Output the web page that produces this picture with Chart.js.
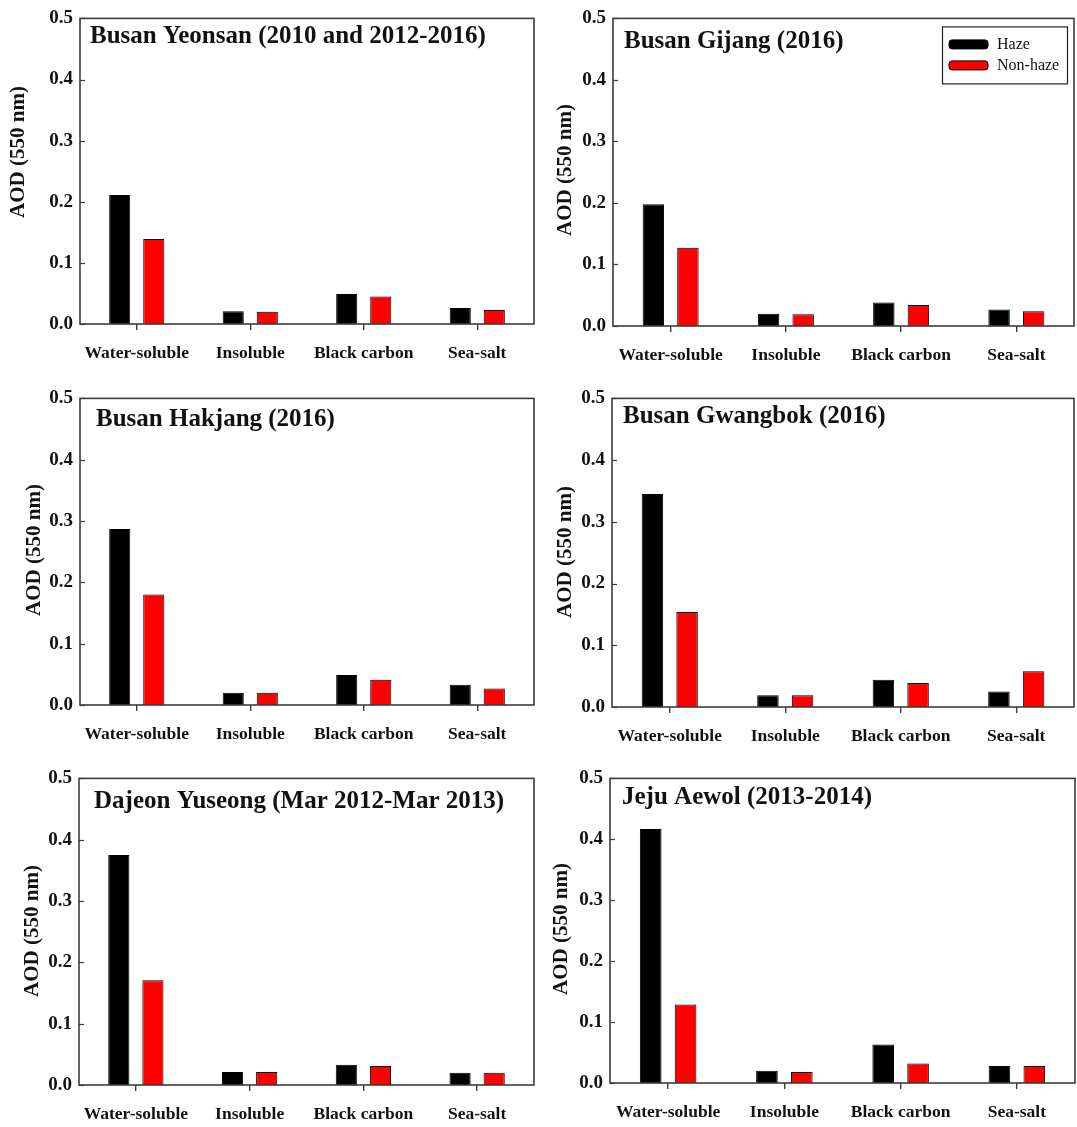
<!DOCTYPE html>
<html>
<head>
<meta charset="utf-8">
<script src="https://cdn.jsdelivr.net/npm/chart.js@4.4.1/dist/chart.umd.min.js"></script>
<style>
  html, body { margin: 0; padding: 0; background: #ffffff; }
  #wrap { position: relative; width: 1077px; height: 1127px; overflow: hidden; }
  #wrap canvas { position: absolute; }
</style>
</head>
<body>
<div id="wrap"></div>
<script>
// Aerosol components shown on the x axis of every panel
const categories = ['Water-soluble', 'Insoluble', 'Black carbon', 'Sea-salt'];
const seriesNames = ['Haze', 'Non-haze'];
const yTickValues = [0.0, 0.1, 0.2, 0.3, 0.4, 0.5];
const yAxisTitle = 'AOD (550 nm)';

const siteTitles = [
  'Busan Yeonsan (2010 and 2012-2016)',
  'Busan Gijang (2016)',
  'Busan Hakjang (2016)',
  'Busan Gwangbok (2016)',
  'Dajeon Yuseong (Mar 2012-Mar 2013)',
  'Jeju Aewol (2013-2014)'
];

// AOD at 550 nm per component, haze vs non-haze days
const yeonsanHaze     = [0.211, 0.021, 0.049, 0.026];
const yeonsanNonHaze  = [0.139, 0.020, 0.045, 0.023];
const gijangHaze      = [0.198, 0.020, 0.038, 0.027];
const gijangNonHaze   = [0.127, 0.019, 0.034, 0.024];
const hakjangHaze     = [0.287, 0.020, 0.049, 0.033];
const hakjangNonHaze  = [0.180, 0.020, 0.041, 0.027];
const gwangbokHaze    = [0.345, 0.019, 0.044, 0.025];
const gwangbokNonHaze = [0.154, 0.019, 0.039, 0.058];
const yuseongHaze     = [0.375, 0.021, 0.033, 0.020];
const yuseongNonHaze  = [0.171, 0.021, 0.031, 0.020];
const aewolHaze       = [0.417, 0.020, 0.063, 0.028];
const aewolNonHaze    = [0.129, 0.018, 0.032, 0.028];

const SERIF = '"Liberation Serif", "Times New Roman", serif';
const FRAME = '#3c3c3c';
const HAZE_COLOR = '#000000';
const NONHAZE_COLOR = '#ff0000';

// Page layout: canvas box [x, y, w, h], plot area [left, top, right, bottom] (page px),
// panel title anchor and rotated y-title centre (page px).
const panels = [
  { title: siteTitles[0], haze: yeonsanHaze,  nonHaze: yeonsanNonHaze,
    box: [0, 0, 540, 380],     area: [80, 14, 534, 324],   titleAt: [90, 37],   yTitleAt: [19, 152],  legend: false },
  { title: siteTitles[1], haze: gijangHaze,   nonHaze: gijangNonHaze,
    box: [540, 0, 537, 380],   area: [613, 13, 1074, 326], titleAt: [624, 42],  yTitleAt: [566, 170], legend: true },
  { title: siteTitles[2], haze: hakjangHaze,  nonHaze: hakjangNonHaze,
    box: [0, 380, 540, 380],   area: [80, 394, 534, 705],  titleAt: [96, 420],  yTitleAt: [35, 550],  legend: false },
  { title: siteTitles[3], haze: gwangbokHaze, nonHaze: gwangbokNonHaze,
    box: [540, 380, 537, 380], area: [612, 395, 1074, 707], titleAt: [623, 417], yTitleAt: [566, 552], legend: false },
  { title: siteTitles[4], haze: yuseongHaze,  nonHaze: yuseongNonHaze,
    box: [0, 760, 540, 367],   area: [79, 775, 534, 1085], titleAt: [94, 802],  yTitleAt: [33, 931],  legend: false },
  { title: siteTitles[5], haze: aewolHaze,    nonHaze: aewolNonHaze,
    box: [540, 760, 537, 367], area: [610, 773, 1075, 1083], titleAt: [622, 798], yTitleAt: [562, 929], legend: false }
];

// Frame, inward y ticks, panel title, y-axis title and legend
const panelDecor = {
  id: 'panelDecor',
  afterDraw(chart, args, opts) {
    const ctx = chart.ctx;
    const a = chart.chartArea;
    const y = chart.scales.y;
    ctx.save();

    // inward ticks on the y axis
    ctx.strokeStyle = FRAME;
    ctx.lineWidth = 1.2;
    y.ticks.forEach(t => {
      const py = Math.round(y.getPixelForValue(t.value)) + 0.5;
      ctx.beginPath();
      ctx.moveTo(a.left, py);
      ctx.lineTo(a.left + 5, py);
      ctx.stroke();
    });

    // closed frame around the plot
    ctx.lineWidth = 1.6;
    ctx.strokeStyle = FRAME;
    ctx.strokeRect(a.left, a.top, a.right - a.left, a.bottom - a.top);

    // site title inside the plot
    ctx.fillStyle = '#111';
    ctx.font = 'bold 25px ' + SERIF;
    ctx.textAlign = 'left';
    ctx.textBaseline = 'middle';
    ctx.fillText(opts.title, opts.titleX, opts.titleY);

    // rotated y-axis title
    ctx.save();
    ctx.translate(opts.yTitleX, opts.yTitleY);
    ctx.rotate(-Math.PI / 2);
    ctx.font = 'bold 21px ' + SERIF;
    ctx.textAlign = 'center';
    ctx.textBaseline = 'middle';
    ctx.fillText(yAxisTitle, 0, 0);
    ctx.restore();

    // legend box
    if (opts.legend) {
      const lx = a.right - 132, ly = a.top + 8, lw = 125, lh = 57;
      ctx.lineWidth = 1.2;
      ctx.strokeStyle = '#222';
      ctx.strokeRect(lx + 0.5, ly + 0.5, lw, lh);
      ctx.font = '16px ' + SERIF;
      ctx.textAlign = 'left';
      ctx.textBaseline = 'middle';
      chart.data.datasets.forEach((ds, i) => {
        const cy = ly + 18 + i * 21;
        ctx.beginPath();
        ctx.roundRect(lx + 7, cy - 4.5, 39, 9, 3);
        ctx.fillStyle = ds.backgroundColor;
        ctx.fill();
        ctx.lineWidth = 1;
        ctx.strokeStyle = '#000';
        ctx.stroke();
        ctx.fillStyle = '#111';
        ctx.fillText(ds.label, lx + 55, cy + 0.5);
      });
    }
    ctx.restore();
  }
};

const wrap = document.getElementById('wrap');

panels.forEach(p => {
  const [bx, by, bw, bh] = p.box;
  const [L, T, R, B] = p.area;
  const cv = document.createElement('canvas');
  cv.width = bw; cv.height = bh;
  cv.style.left = bx + 'px'; cv.style.top = by + 'px';
  cv.style.width = bw + 'px'; cv.style.height = bh + 'px';
  wrap.appendChild(cv);

  new Chart(cv, {
    type: 'bar',
    data: {
      labels: categories,
      datasets: [
        { label: seriesNames[0], data: p.haze, backgroundColor: HAZE_COLOR,
          borderColor: '#000', borderWidth: 1 },
        { label: seriesNames[1], data: p.nonHaze, backgroundColor: NONHAZE_COLOR,
          borderColor: '#000', borderWidth: 1 }
      ]
    },
    options: {
      responsive: false,
      animation: false,
      devicePixelRatio: 1,
      layout: { padding: { left: 0, top: T - by, right: (bx + bw) - R, bottom: 0 } },
      datasets: { bar: { categoryPercentage: 0.6, barPercentage: 0.62 } },
      plugins: {
        legend: { display: false },
        tooltip: { enabled: false },
        panelDecor: {
          title: p.title,
          titleX: p.titleAt[0] - bx, titleY: p.titleAt[1] - by,
          yTitleX: p.yTitleAt[0] - bx, yTitleY: p.yTitleAt[1] - by,
          legend: p.legend
        }
      },
      scales: {
        x: {
          grid: { display: true, drawOnChartArea: false, drawTicks: true, tickLength: 6,
                  offset: false, color: FRAME, lineWidth: 1.4 },
          border: { display: false },
          ticks: { color: '#111', padding: 13, maxRotation: 0, autoSkip: false,
                   font: { family: SERIF, size: 17.5, weight: 'bold', lineHeight: 1.2 } },
          afterFit: s => { s.height = (by + bh) - B; }
        },
        y: {
          min: 0, max: 0.5,
          grid: { display: false, drawTicks: false },
          border: { display: false },
          afterBuildTicks: s => { s.ticks = yTickValues.map(v => ({ value: v })); },
          ticks: { color: '#111', padding: 7,
                   font: { family: SERIF, size: 19, weight: 'bold' },
                   callback: v => Number(v).toFixed(1) },
          afterFit: s => { s.width = L - bx; }
        }
      }
    },
    plugins: [panelDecor]
  });
});
</script>
</body>
</html>
